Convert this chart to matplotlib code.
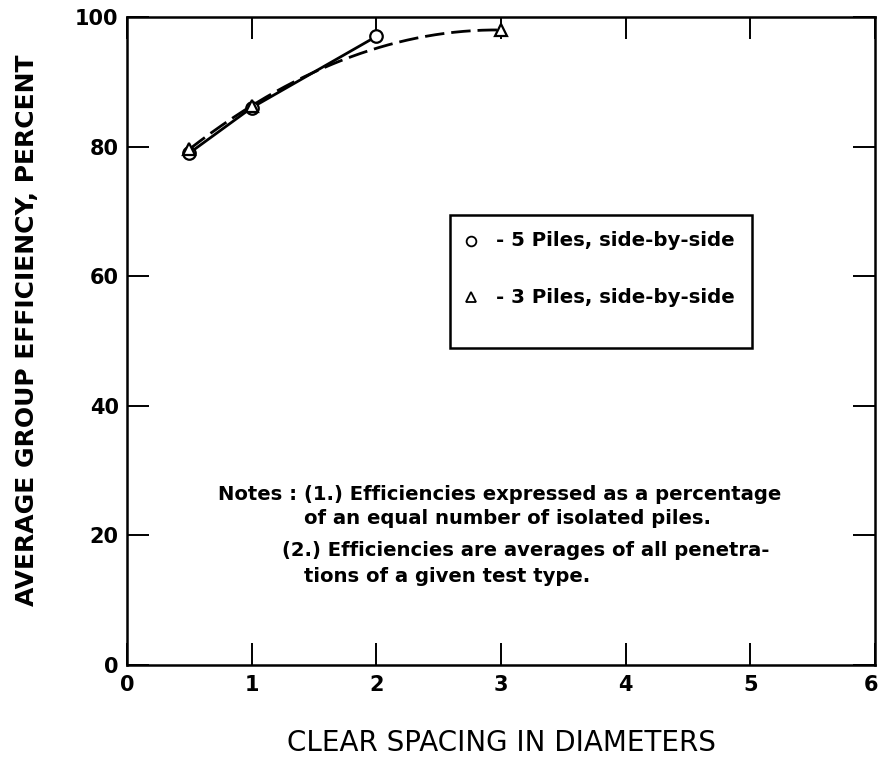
import numpy as np
import matplotlib
matplotlib.use("Agg")
import matplotlib.pyplot as plt
from matplotlib.patches import Rectangle
from matplotlib.transforms import ScaledTranslation

# Clear spacing (diameters) vs. average group efficiency (%)
spacing_5 = [0.5, 1.0, 2.0]
eff_5 = [79.0, 86.0, 97.0]

spacing_3 = [0.5, 1.0, 3.0]
eff_3 = [79.6, 86.3, 98.0]

x_ticks = [0, 1, 2, 3, 4, 5, 6]
y_ticks = [0, 20, 40, 60, 80, 100]

FONT = ["DejaVu Sans"]
plt.rcParams["font.family"] = FONT

W, H = 880, 757
fig = plt.figure(figsize=(W / 100, H / 100), dpi=100)
ax = fig.add_axes([127 / W, (H - 665) / H, (875 - 127) / W, (665 - 17) / H])

# 5-pile group: straight segments between test points
ax.plot(spacing_5, eff_5, color="black", lw=2.0, zorder=3)
ax.plot(spacing_5, eff_5, ls="none", marker="o", ms=9, mfc="white",
        mec="black", mew=1.6, zorder=4)

# 3-pile group: smooth dashed curve through its test points
coef = np.polyfit(spacing_3, eff_3, 2)
xs = np.linspace(min(spacing_3), max(spacing_3), 200)
ax.plot(xs, np.polyval(coef, xs), color="black", lw=2.0,
        dashes=(7, 2.5), zorder=3)
ax.plot(spacing_3, eff_3, ls="none", marker="^", ms=9, mfc="white",
        mec="black", mew=1.6, zorder=4)

ax.set_xlim(0, 6)
ax.set_ylim(0, 100)
ax.set_xticks(x_ticks)
ax.set_yticks(y_ticks)
ax.tick_params(direction="in", length=16, width=1.4, top=True, right=True,
               labelsize=15)
ax.tick_params(axis="x", pad=7)
ax.tick_params(axis="y", pad=6)
for lab in ax.get_xticklabels() + ax.get_yticklabels():
    lab.set_fontweight("bold")
# keep the last x label inside the figure edge
last = ax.get_xticklabels()[-1]
last.set_transform(last.get_transform() +
                   ScaledTranslation(-4 / 100, 0, fig.dpi_scale_trans))
for sp in ax.spines.values():
    sp.set_linewidth(1.8)

ax.set_xlabel("CLEAR SPACING IN DIAMETERS", fontsize=20, labelpad=25)
ax.set_ylabel("AVERAGE GROUP EFFICIENCY, PERCENT", fontsize=18,
              fontweight="bold")
ax.yaxis.set_label_coords(-0.117, 0.517)

# Key box
def ax_xy(px, py):
    return ax.transAxes.inverted().transform(
        fig.transFigure.transform((px / W, 1 - py / H)))

x0, y0 = ax_xy(450, 348)
x1, y1 = ax_xy(752, 215)
ax.add_patch(Rectangle((x0, y0), x1 - x0, y1 - y0, transform=ax.transAxes,
                       fill=False, ec="black", lw=1.8, zorder=5))

for sym, label, py in [("o", "- 5 Piles, side-by-side", 241),
                       ("^", "- 3 Piles, side-by-side", 297)]:
    mx, my = ax_xy(471, py)
    ax.plot([mx], [my], transform=ax.transAxes, ls="none", marker=sym, ms=7,
            mfc="white", mec="black", mew=1.3, clip_on=False, zorder=6)
    tx, ty = ax_xy(496, py)
    ax.text(tx, ty, label, transform=ax.transAxes, fontsize=14.2,
            fontweight="bold", va="center", ha="left")

notes = [
    (218, 494, "Notes : (1.) Efficiencies expressed as a percentage"),
    (304, 519, "of an equal number of isolated piles."),
    (282, 550, "(2.) Efficiencies are averages of all penetra-"),
    (304, 576, "tions of a given test type."),
]
for px, py, s in notes:
    tx, ty = ax_xy(px, py)
    ax.text(tx, ty, s, transform=ax.transAxes, fontsize=14.1,
            fontweight="bold", va="center", ha="left")

fig.savefig("out.png", dpi=100)
